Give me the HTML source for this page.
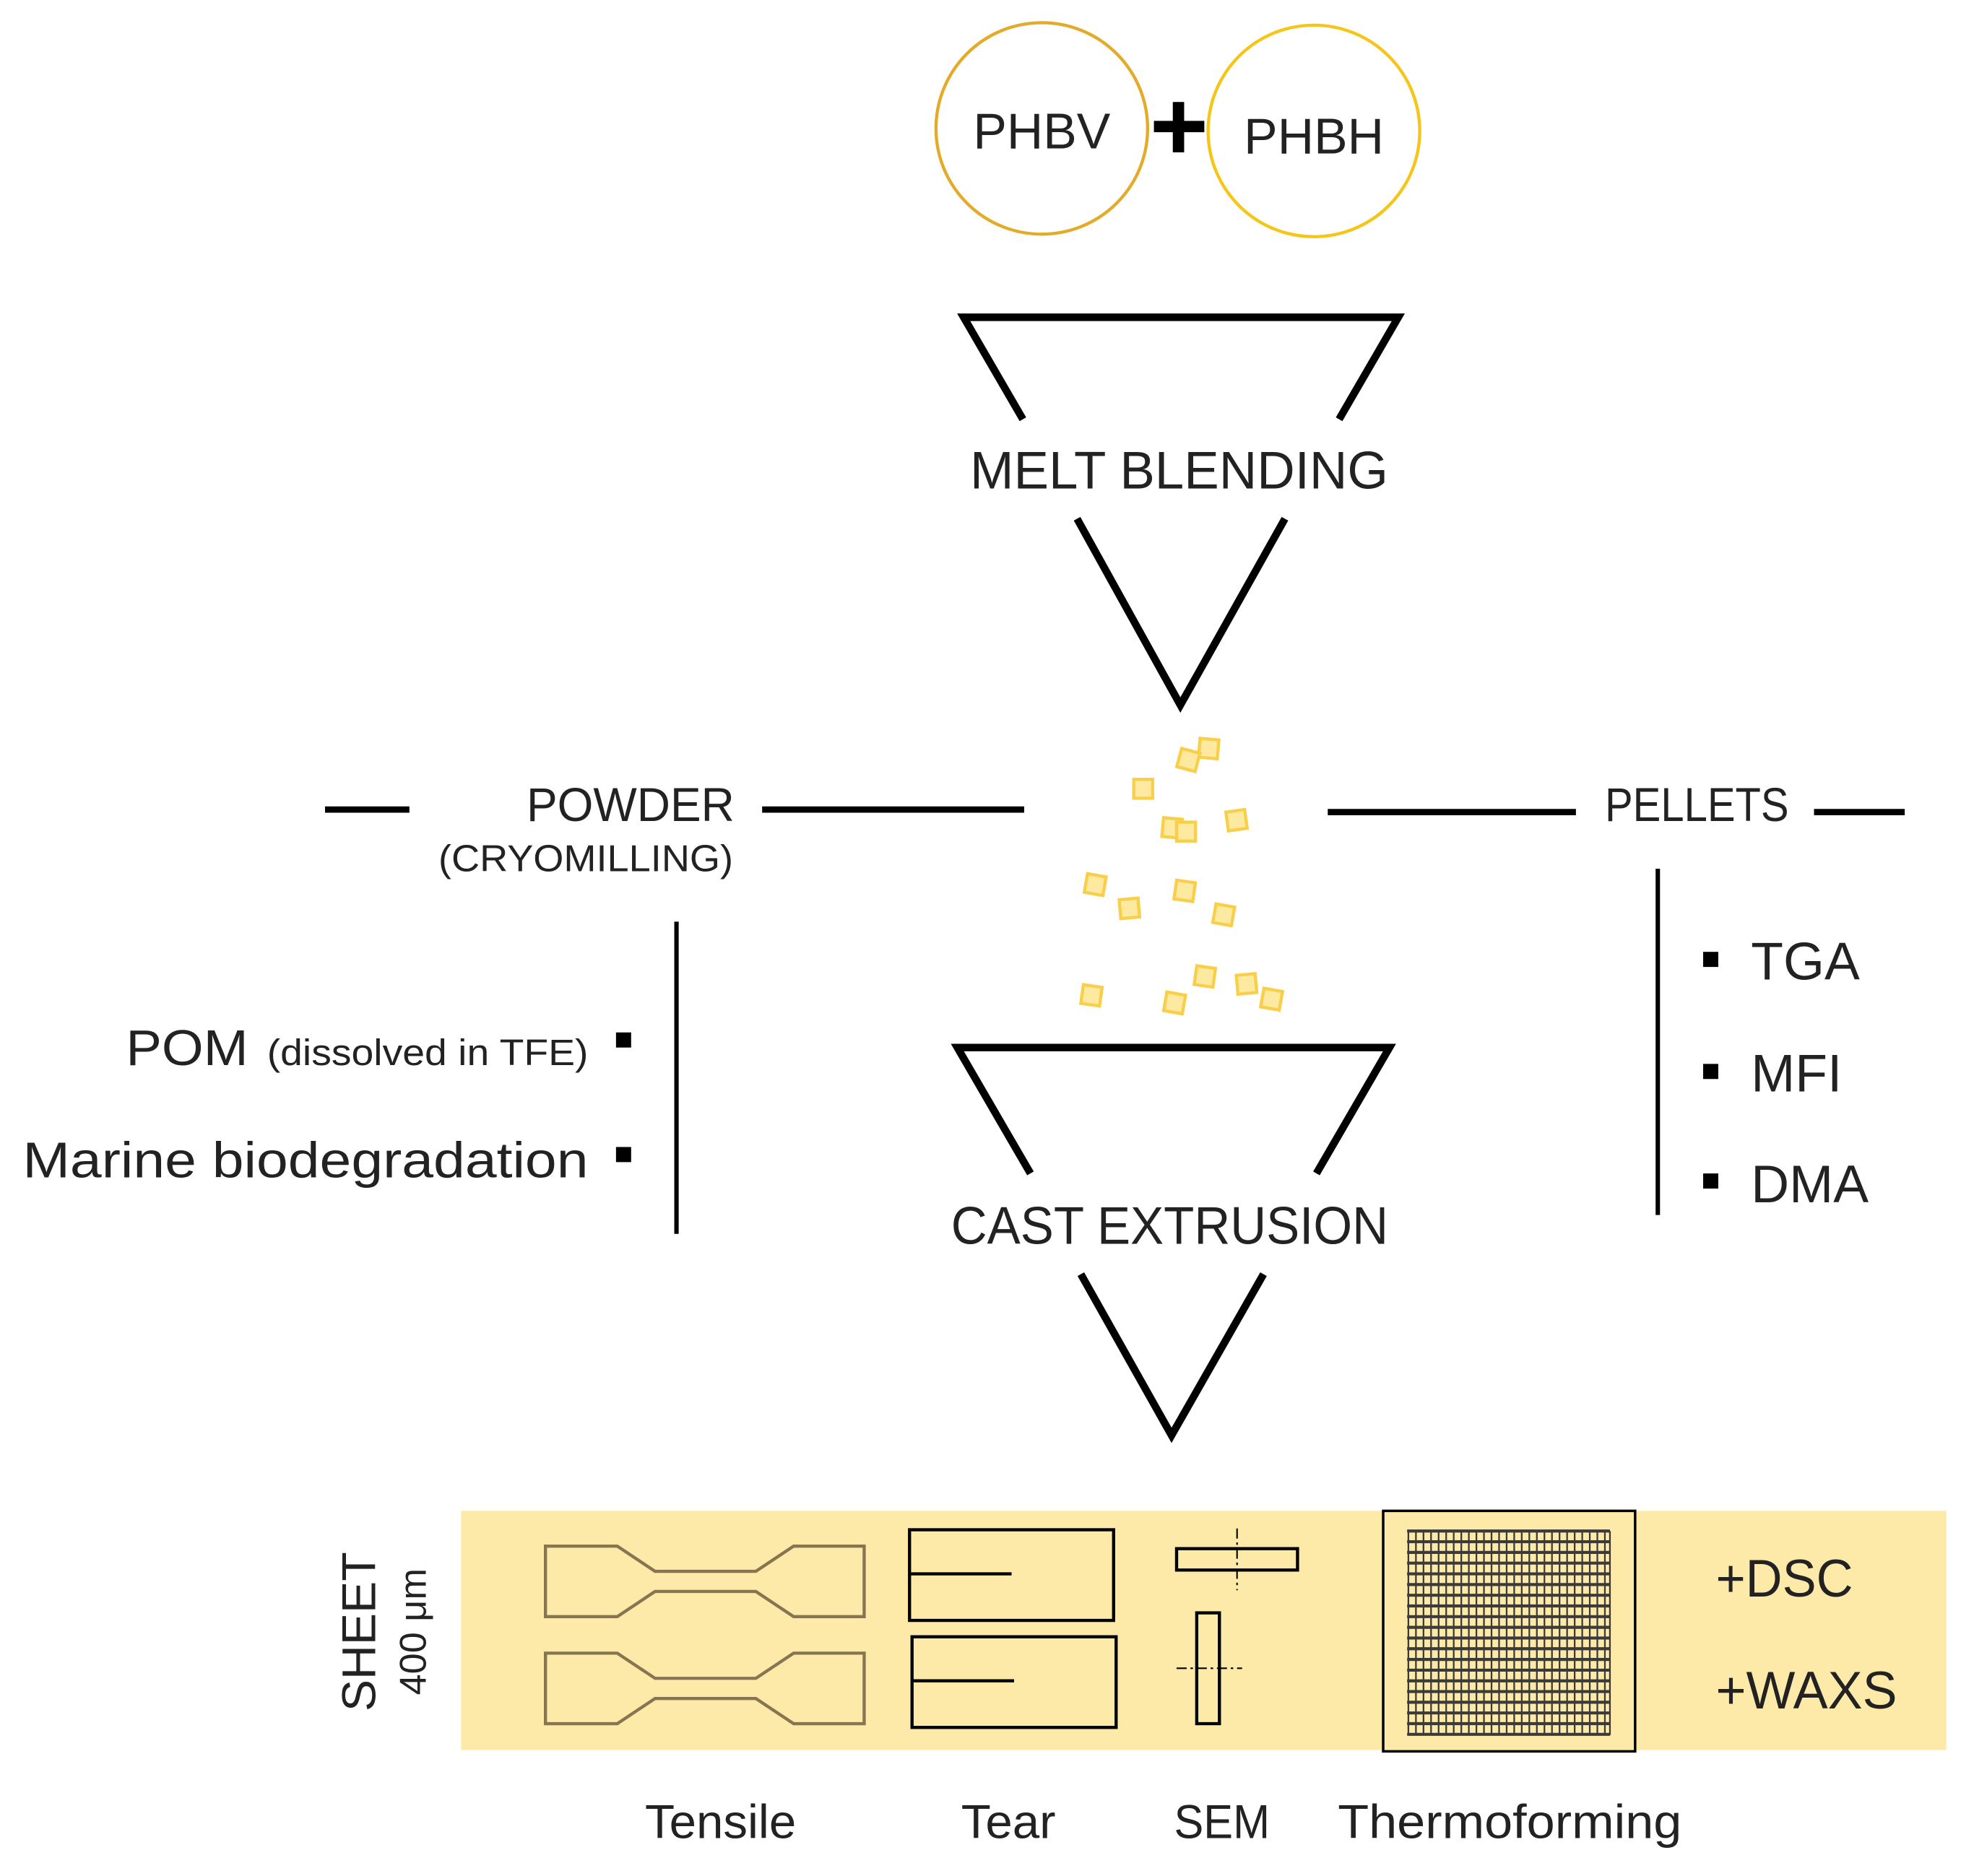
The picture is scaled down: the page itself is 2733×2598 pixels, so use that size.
<!DOCTYPE html>
<html><head><meta charset="utf-8"><style>
html,body{margin:0;padding:0;background:#fff;}
svg{display:block;}
text{font-family:"Liberation Sans",sans-serif;fill:#222;}
</style></head><body>
<svg width="2733" height="2598" viewBox="0 0 1567 1490" preserveAspectRatio="none" xmlns="http://www.w3.org/2000/svg">
<rect width="1567" height="1490" fill="#fff"/>
<circle cx="827" cy="102" r="84" fill="none" stroke="#e2ac2a" stroke-width="2.5"/>
<circle cx="1043" cy="104" r="84" fill="none" stroke="#f5c518" stroke-width="2.5"/>
<text x="827" y="118" font-size="40" text-anchor="middle">PHBV</text>
<text x="1043" y="122" font-size="40" text-anchor="middle">PHBH</text>
<rect x="916" y="96" width="40" height="9" fill="#000"/>
<rect x="931" y="81" width="9" height="40" fill="#000"/>
<g fill="none" stroke="#000" stroke-width="6" stroke-linejoin="miter">
<polyline points="812,333 765,252 1110,252 1063,333"/>
<polyline points="855,412 937,560 1020,412"/>
<polyline points="818,932 760,832 1103,832 1045,932"/>
<polyline points="858,1012 930,1140 1003,1012"/>
</g>
<text x="770" y="388" font-size="42" textLength="332" lengthAdjust="spacingAndGlyphs">MELT BLENDING</text>
<text x="755" y="988" font-size="42" textLength="347" lengthAdjust="spacingAndGlyphs">CAST EXTRUSION</text>
<g stroke="#000" stroke-width="5">
<line x1="258" y1="643" x2="325" y2="643"/>
<line x1="605" y1="643" x2="813" y2="643"/>
<line x1="1054" y1="645" x2="1251" y2="645"/>
<line x1="1440" y1="645" x2="1512" y2="645"/>
</g>
<g stroke="#000" stroke-width="3.5">
<line x1="537" y1="732" x2="537" y2="980"/>
<line x1="1316" y1="690" x2="1316" y2="965"/>
</g>
<text x="418" y="652" font-size="38" textLength="165" lengthAdjust="spacingAndGlyphs">POWDER</text>
<text x="348" y="692" font-size="30" textLength="234" lengthAdjust="spacingAndGlyphs">(CRYOMILLING)</text>
<text x="1274" y="652" font-size="38" textLength="146" lengthAdjust="spacingAndGlyphs">PELLETS</text>
<text x="100" y="846" font-size="40" textLength="97" lengthAdjust="spacingAndGlyphs">POM</text>
<text x="212" y="846" font-size="29" textLength="255" lengthAdjust="spacingAndGlyphs">(dissolved in TFE)</text>
<text x="18" y="935" font-size="40" textLength="449" lengthAdjust="spacingAndGlyphs">Marine biodegradation</text>
<rect x="489" y="820" width="12" height="12" fill="#000"/>
<rect x="489" y="911" width="12" height="12" fill="#000"/>
<rect x="1352" y="756" width="12" height="12" fill="#000"/>
<rect x="1352" y="845" width="12" height="12" fill="#000"/>
<rect x="1352" y="932" width="12" height="12" fill="#000"/>
<text x="1390" y="778" font-size="42">TGA</text>
<text x="1390" y="867" font-size="42">MFI</text>
<text x="1390" y="955" font-size="42">DMA</text>
<g fill="#fde9a0" stroke="#f9cf4a" stroke-width="2.5">
<rect x="952" y="587" width="15" height="15" transform="rotate(5 959 594)"/>
<rect x="936" y="596" width="15" height="15" transform="rotate(15 943 603)"/>
<rect x="900" y="619" width="15" height="15"/>
<rect x="923" y="650" width="15" height="15" transform="rotate(5 930 657)"/>
<rect x="934" y="653" width="15" height="15"/>
<rect x="974" y="644" width="15" height="15" transform="rotate(-8 981 651)"/>
<rect x="862" y="695" width="15" height="15" transform="rotate(10 869 702)"/>
<rect x="889" y="714" width="15" height="15" transform="rotate(-5 896 721)"/>
<rect x="933" y="700" width="15" height="15" transform="rotate(8 940 707)"/>
<rect x="964" y="719" width="15" height="15" transform="rotate(10 971 726)"/>
<rect x="859" y="783" width="15" height="15" transform="rotate(8 866 790)"/>
<rect x="925" y="789" width="15" height="15" transform="rotate(10 932 796)"/>
<rect x="949" y="768" width="15" height="15" transform="rotate(8 956 775)"/>
<rect x="982" y="774" width="15" height="15" transform="rotate(-5 989 781)"/>
<rect x="1002" y="786" width="15" height="15" transform="rotate(10 1009 793)"/>
</g>
<rect x="366" y="1200" width="1179" height="190" fill="#feeaa8"/>
<g fill="none" stroke="#857550" stroke-width="2.5">
<path d="M433,1228 H490 L520,1248 H600 L630,1228 H686 V1284 H630 L600,1264 H520 L490,1284 H433 Z"/>
<path d="M433,1313 H490 L520,1333 H600 L630,1313 H686 V1369 H630 L600,1349 H520 L490,1369 H433 Z"/>
</g>
<g fill="none" stroke="#000" stroke-width="2.5">
<rect x="722" y="1215" width="162" height="72"/>
<line x1="722" y1="1250" x2="803" y2="1250"/>
<rect x="724" y="1300" width="162" height="72"/>
<line x1="724" y1="1335" x2="805" y2="1335"/>
<rect x="934" y="1230" width="96" height="17"/>
<rect x="950" y="1281" width="18" height="88"/>
<rect x="1098" y="1200" width="200" height="191" stroke-width="2"/>
</g>
<g stroke="#000" stroke-width="1.2" stroke-dasharray="8,3,2,3">
<line x1="982" y1="1214" x2="982" y2="1263"/>
<line x1="934" y1="1325" x2="986" y2="1325"/>
</g>
<g stroke="#3a3a3a">
<g stroke-width="2.4">
<line x1="1117" y1="1216" x2="1278" y2="1216"/><line x1="1117" y1="1224.5" x2="1278" y2="1224.5"/><line x1="1117" y1="1233" x2="1278" y2="1233"/><line x1="1117" y1="1241.5" x2="1278" y2="1241.5"/><line x1="1117" y1="1250" x2="1278" y2="1250"/><line x1="1117" y1="1258.5" x2="1278" y2="1258.5"/><line x1="1117" y1="1267" x2="1278" y2="1267"/><line x1="1117" y1="1275.5" x2="1278" y2="1275.5"/><line x1="1117" y1="1284" x2="1278" y2="1284"/><line x1="1117" y1="1292.5" x2="1278" y2="1292.5"/><line x1="1117" y1="1301" x2="1278" y2="1301"/><line x1="1117" y1="1309.5" x2="1278" y2="1309.5"/><line x1="1117" y1="1318" x2="1278" y2="1318"/><line x1="1117" y1="1326.5" x2="1278" y2="1326.5"/><line x1="1117" y1="1335" x2="1278" y2="1335"/><line x1="1117" y1="1343.5" x2="1278" y2="1343.5"/><line x1="1117" y1="1352" x2="1278" y2="1352"/><line x1="1117" y1="1360.5" x2="1278" y2="1360.5"/><line x1="1117" y1="1369" x2="1278" y2="1369"/><line x1="1117" y1="1377.5" x2="1278" y2="1377.5"/>
</g>
<g stroke-width="1.3">
<line x1="1118" y1="1216" x2="1118" y2="1378"/><line x1="1124" y1="1216" x2="1124" y2="1378"/><line x1="1130" y1="1216" x2="1130" y2="1378"/><line x1="1136" y1="1216" x2="1136" y2="1378"/><line x1="1142" y1="1216" x2="1142" y2="1378"/><line x1="1148" y1="1216" x2="1148" y2="1378"/><line x1="1154" y1="1216" x2="1154" y2="1378"/><line x1="1160" y1="1216" x2="1160" y2="1378"/><line x1="1166" y1="1216" x2="1166" y2="1378"/><line x1="1172" y1="1216" x2="1172" y2="1378"/><line x1="1178" y1="1216" x2="1178" y2="1378"/><line x1="1184" y1="1216" x2="1184" y2="1378"/><line x1="1190" y1="1216" x2="1190" y2="1378"/><line x1="1196" y1="1216" x2="1196" y2="1378"/><line x1="1202" y1="1216" x2="1202" y2="1378"/><line x1="1208" y1="1216" x2="1208" y2="1378"/><line x1="1214" y1="1216" x2="1214" y2="1378"/><line x1="1220" y1="1216" x2="1220" y2="1378"/><line x1="1226" y1="1216" x2="1226" y2="1378"/><line x1="1232" y1="1216" x2="1232" y2="1378"/><line x1="1238" y1="1216" x2="1238" y2="1378"/><line x1="1244" y1="1216" x2="1244" y2="1378"/><line x1="1250" y1="1216" x2="1250" y2="1378"/><line x1="1256" y1="1216" x2="1256" y2="1378"/><line x1="1262" y1="1216" x2="1262" y2="1378"/><line x1="1268" y1="1216" x2="1268" y2="1378"/><line x1="1274" y1="1216" x2="1274" y2="1378"/><line x1="1278" y1="1216" x2="1278" y2="1378"/>
</g>
</g>
<text x="1362" y="1268" font-size="42" textLength="109" lengthAdjust="spacingAndGlyphs">+DSC</text>
<text x="1362" y="1357" font-size="42" textLength="144" lengthAdjust="spacingAndGlyphs">+WAXS</text>
<text transform="translate(298 1296) rotate(-90)" font-size="38" text-anchor="middle">SHEET</text>
<text transform="translate(338 1296) rotate(-90)" font-size="30" text-anchor="middle">400 μm</text>
<text x="512" y="1460" font-size="38" textLength="120" lengthAdjust="spacingAndGlyphs">Tensile</text>
<text x="763" y="1460" font-size="38" textLength="75" lengthAdjust="spacingAndGlyphs">Tear</text>
<text x="932" y="1460" font-size="38" textLength="76" lengthAdjust="spacingAndGlyphs">SEM</text>
<text x="1062" y="1460" font-size="38" textLength="273" lengthAdjust="spacingAndGlyphs">Thermoforming</text>
</svg>
</body></html>
